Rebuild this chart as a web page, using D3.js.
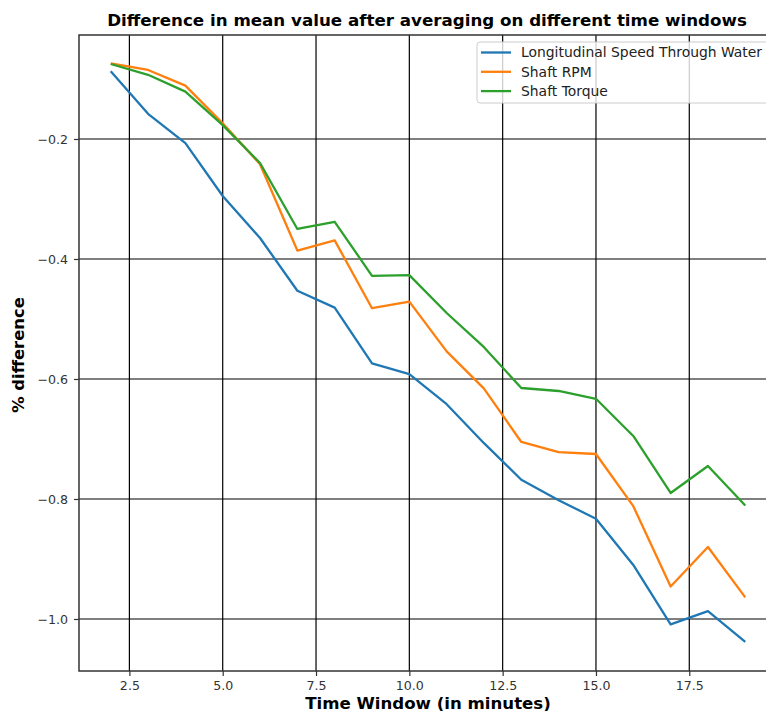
<!DOCTYPE html>
<html>
<head>
<meta charset="utf-8">
<script src="https://cdn.jsdelivr.net/npm/d3@7"></script>
<style>
  body { margin: 0; background: #fff; }
  svg { display: block; font-family: "DejaVu Sans", sans-serif; }
</style>
</head>
<body>
<svg id="chart" width="766" height="711"></svg>
<script>
// time windows (minutes)
var windows = [2, 3, 4, 5, 6, 7, 8, 9, 10, 11, 12, 13, 14, 15, 16, 17, 18, 19];
var speed = [-0.087, -0.158, -0.207, -0.295, -0.365, -0.453, -0.481, -0.574, -0.592, -0.642, -0.707, -0.768, -0.802, -0.833, -0.910, -1.009, -0.987, -1.038];
var rpm = [-0.074, -0.085, -0.111, -0.174, -0.242, -0.386, -0.369, -0.482, -0.471, -0.554, -0.616, -0.705, -0.722, -0.725, -0.812, -0.946, -0.880, -0.964];
var torque = [-0.075, -0.093, -0.121, -0.177, -0.240, -0.350, -0.338, -0.428, -0.427, -0.490, -0.547, -0.615, -0.620, -0.633, -0.695, -0.790, -0.745, -0.811];
var seriesNames = ['Longitudinal Speed Through Water', 'Shaft RPM', 'Shaft Torque'];
var seriesColors = ['#1f77b4', '#ff7f0e', '#2ca02c'];
var xTicks = [2.5, 5.0, 7.5, 10.0, 12.5, 15.0, 17.5];
var yTicks = [-0.2, -0.4, -0.6, -0.8, -1.0];

var svg = d3.select('#chart');
var margin = { top: 35, left: 79, right: 777, bottom: 671 };

var x = d3.scaleLinear().domain([1.15, 19.85]).range([margin.left, margin.right]);
var y = d3.scaleLinear().domain([-1.0867, -0.0267]).range([margin.bottom, margin.top]);

var clipId = 'plotclip';
svg.append('defs').append('clipPath').attr('id', clipId)
    .append('rect')
    .attr('x', margin.left).attr('y', margin.top)
    .attr('width', margin.right - margin.left).attr('height', margin.bottom - margin.top);

// grid
var grid = svg.append('g').attr('stroke', '#000').attr('stroke-width', 1.2);
grid.selectAll('.vg').data(xTicks).enter().append('line')
    .attr('x1', function (d) { return x(d); }).attr('x2', function (d) { return x(d); })
    .attr('y1', margin.top).attr('y2', margin.bottom);
grid.selectAll('.hg').data(yTicks).enter().append('line')
    .attr('y1', function (d) { return y(d); }).attr('y2', function (d) { return y(d); })
    .attr('x1', margin.left).attr('x2', margin.right);

// lines
var allSeries = [speed, rpm, torque];
var line = d3.line()
    .x(function (d, i) { return x(windows[i]); })
    .y(function (d) { return y(d); });
svg.append('g').attr('clip-path', 'url(#' + clipId + ')')
    .selectAll('path').data(allSeries).enter().append('path')
    .attr('fill', 'none')
    .attr('stroke', function (d, i) { return seriesColors[i]; })
    .attr('stroke-width', 2.3)
    .attr('stroke-linejoin', 'round')
    .attr('d', line);

// axes
var xAxis = svg.append('g').attr('transform', 'translate(0,' + margin.bottom + ')')
    .call(d3.axisBottom(x).tickValues(xTicks).tickFormat(d3.format('.1f')).tickSize(5).tickSizeOuter(0));
var yAxis = svg.append('g').attr('transform', 'translate(' + margin.left + ',0)')
    .call(d3.axisLeft(y).tickValues(yTicks).tickFormat(function (d) { return '\u2212' + Math.abs(d).toFixed(1); }).tickSize(5).tickSizeOuter(0));
[xAxis, yAxis].forEach(function (a) {
    a.select('.domain').remove();
    a.selectAll('.tick line').attr('stroke', '#333').attr('stroke-width', 1.2);
    a.selectAll('.tick text').attr('fill', '#333').style('font-size', '12.6px').style('font-family', '"DejaVu Sans", sans-serif');
});
xAxis.selectAll('.tick text').attr('dy', '0.85em');
yAxis.selectAll('.tick text').attr('x', -11);

// spines
svg.append('rect')
    .attr('x', margin.left).attr('y', margin.top)
    .attr('width', margin.right - margin.left).attr('height', margin.bottom - margin.top)
    .attr('fill', 'none').attr('stroke', '#333').attr('stroke-width', 1.5);

// title and labels
svg.append('text')
    .attr('x', 427).attr('y', 26)
    .attr('text-anchor', 'middle')
    .style('font-size', '16.7px').style('font-weight', 'bold')
    .text('Difference in mean value after averaging on different time windows');
svg.append('text')
    .attr('x', 428).attr('y', 709)
    .attr('text-anchor', 'middle')
    .style('font-size', '16.6px').style('font-weight', 'bold')
    .text('Time Window (in minutes)');
svg.append('text')
    .attr('transform', 'translate(24,355) rotate(-90)')
    .attr('text-anchor', 'middle')
    .style('font-size', '16.4px').style('font-weight', 'bold')
    .text('% difference');

// legend
var legend = svg.append('g');
legend.append('rect')
    .attr('x', 477).attr('y', 42).attr('width', 300).attr('height', 61)
    .attr('rx', 3)
    .attr('fill', 'rgba(255,255,255,0.8)').attr('stroke', '#ccc').attr('stroke-width', 1);
var items = legend.selectAll('.item').data(seriesNames).enter().append('g')
    .attr('transform', function (d, i) { return 'translate(0,' + (52.5 + i * 19.3) + ')'; });
items.append('line')
    .attr('x1', 481).attr('x2', 511)
    .attr('stroke', function (d, i) { return seriesColors[i]; })
    .attr('stroke-width', 2.3);
items.append('text')
    .attr('x', 521).attr('dy', '0.35em')
    .attr('fill', '#222')
    .style('font-size', '13.9px')
    .text(function (d) { return d; });
</script>
</body>
</html>
